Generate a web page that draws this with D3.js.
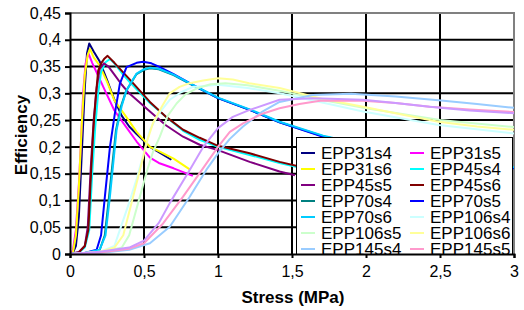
<!DOCTYPE html>
<html>
<head>
<meta charset="utf-8">
<script src="https://cdn.jsdelivr.net/npm/d3@7"></script>
<style>
  body { margin: 0; background: #fff; }
  text { font-family: "Liberation Sans", Arial, sans-serif; }
</style>
</head>
<body>
<script>
// stress (MPa), efficiency pairs
var epp31s4 = [[0,0],[0.02,0.002],[0.04,0.015],[0.06,0.07],[0.08,0.19],[0.1,0.31],[0.115,0.375],[0.13,0.393],[0.16,0.378],[0.2,0.36],[0.25,0.325],[0.3,0.288],[0.35,0.258],[0.4,0.238],[0.45,0.224],[0.54,0.2],[0.6,0.19],[0.685,0.176]]
var epp31s5 = [[0,0],[0.02,0.007],[0.04,0.045],[0.06,0.13],[0.075,0.215],[0.09,0.305],[0.105,0.355],[0.124,0.375],[0.15,0.357],[0.2,0.327],[0.25,0.297],[0.3,0.268],[0.38,0.237],[0.45,0.21],[0.54,0.18],[0.6,0.17],[0.7,0.16],[0.83,0.146]]
var epp31s6 = [[0,0],[0.02,0.003],[0.04,0.035],[0.06,0.125],[0.08,0.245],[0.1,0.335],[0.12,0.372],[0.135,0.383],[0.16,0.367],[0.2,0.352],[0.25,0.322],[0.3,0.287],[0.38,0.256],[0.45,0.228],[0.54,0.2],[0.6,0.192],[0.7,0.178],[0.809,0.158]]
var epp45s4 = [[0,0],[0.06,0.003],[0.1,0.012],[0.13,0.045],[0.15,0.15],[0.17,0.235],[0.19,0.3],[0.21,0.34],[0.24,0.358],[0.27,0.364],[0.3,0.356],[0.35,0.338],[0.4,0.322],[0.54,0.282],[0.65,0.256],[0.764,0.23],[0.876,0.213],[1.0,0.2],[1.214,0.185],[1.416,0.17],[1.6,0.158]]
var epp45s5 = [[0,0],[0.06,0.004],[0.1,0.015],[0.12,0.05],[0.14,0.16],[0.16,0.25],[0.18,0.31],[0.2,0.345],[0.229,0.356],[0.26,0.35],[0.3,0.335],[0.35,0.316],[0.4,0.3],[0.54,0.266],[0.65,0.24],[0.764,0.219],[0.876,0.204],[1.0,0.194],[1.214,0.172],[1.416,0.154],[1.52,0.147]]
var epp45s6 = [[0,0],[0.06,0.003],[0.1,0.015],[0.124,0.045],[0.14,0.14],[0.157,0.23],[0.175,0.296],[0.19,0.342],[0.21,0.356],[0.23,0.364],[0.254,0.37],[0.3,0.357],[0.35,0.342],[0.4,0.327],[0.54,0.284],[0.65,0.256],[0.764,0.232],[0.876,0.217],[1.0,0.202],[1.214,0.188],[1.416,0.172],[1.6,0.16]]
var epp70s4 = [[0,0],[0.1,0.002],[0.2,0.007],[0.235,0.035],[0.265,0.11],[0.31,0.23],[0.345,0.276],[0.38,0.305],[0.45,0.336],[0.5,0.344],[0.54,0.347],[0.6,0.345],[0.7,0.334],[0.83,0.315],[1.0,0.291],[1.214,0.269],[1.416,0.246],[1.71,0.22],[2.0,0.202],[2.5,0.18],[3,0.161]]
var epp70s5 = [[0,0],[0.1,0.002],[0.18,0.008],[0.21,0.035],[0.236,0.108],[0.27,0.2],[0.303,0.262],[0.337,0.318],[0.382,0.349],[0.45,0.357],[0.494,0.359],[0.55,0.356],[0.6,0.35],[0.7,0.336],[0.83,0.316],[1.0,0.291],[1.214,0.269],[1.416,0.246],[1.71,0.219],[2.0,0.2],[2.5,0.178],[3,0.16]]
var epp70s6 = [[0,0],[0.1,0.002],[0.2,0.008],[0.24,0.035],[0.27,0.108],[0.315,0.232],[0.35,0.277],[0.382,0.306],[0.45,0.337],[0.5,0.345],[0.54,0.348],[0.6,0.346],[0.7,0.335],[0.83,0.316],[1.0,0.292],[1.214,0.27],[1.416,0.247],[1.71,0.221],[2.0,0.203],[2.5,0.181],[3,0.162]]
var epp106s4 = [[0,0],[0.2,0.004],[0.3,0.015],[0.337,0.045],[0.4,0.096],[0.45,0.14],[0.5,0.19],[0.54,0.232],[0.6,0.262],[0.674,0.288],[0.75,0.302],[0.83,0.312],[1.0,0.316],[1.2,0.31],[1.416,0.3],[1.75,0.28],[1.98,0.266],[2.49,0.241],[3,0.225]]
var epp106s5 = [[0,0],[0.2,0.003],[0.35,0.012],[0.4,0.035],[0.46,0.095],[0.52,0.155],[0.56,0.19],[0.607,0.219],[0.66,0.258],[0.72,0.281],[0.78,0.298],[0.854,0.309],[0.95,0.317],[1.05,0.319],[1.2,0.315],[1.416,0.305],[1.75,0.285],[2.0,0.272],[2.5,0.25],[3,0.237]]
var epp106s6 = [[0,0],[0.2,0.004],[0.3,0.012],[0.36,0.035],[0.42,0.1],[0.48,0.165],[0.52,0.21],[0.56,0.244],[0.62,0.275],[0.674,0.3],[0.74,0.312],[0.809,0.319],[0.9,0.324],[1.0,0.328],[1.1,0.326],[1.21,0.319],[1.416,0.31],[1.7,0.29],[1.98,0.275],[2.25,0.26],[2.49,0.247],[2.75,0.238],[3,0.232]]
var epp145s4 = [[0,0],[0.2,0.002],[0.4,0.008],[0.54,0.02],[0.674,0.051],[0.809,0.107],[0.921,0.157],[1.0,0.188],[1.08,0.215],[1.169,0.238],[1.3,0.266],[1.416,0.284],[1.64,0.297],[1.9,0.299],[2.2,0.294],[2.49,0.287],[2.75,0.28],[3,0.273]]
var epp145s5 = [[0,0],[0.2,0.003],[0.4,0.01],[0.5,0.02],[0.629,0.057],[0.764,0.107],[0.876,0.151],[1.0,0.2],[1.08,0.228],[1.169,0.244],[1.3,0.262],[1.416,0.272],[1.55,0.28],[1.69,0.286],[1.98,0.286],[2.2,0.282],[2.43,0.275],[2.7,0.27],[3,0.265]]
var epp145s6 = [[0,0],[0.2,0.004],[0.4,0.012],[0.5,0.025],[0.6,0.058],[0.674,0.095],[0.809,0.157],[0.9,0.2],[1.0,0.235],[1.1,0.256],[1.214,0.269],[1.416,0.288],[1.64,0.291],[1.98,0.288],[2.2,0.282],[2.43,0.275],[2.7,0.268],[3,0.263]]

var seriesNames = ["EPP31s4","EPP31s5","EPP31s6","EPP45s4","EPP45s5","EPP45s6","EPP70s4","EPP70s5","EPP70s6","EPP106s4","EPP106s5","EPP106s6","EPP145s4","EPP145s5","EPP145s6"]
var seriesData = [epp31s4,epp31s5,epp31s6,epp45s4,epp45s5,epp45s6,epp70s4,epp70s5,epp70s6,epp106s4,epp106s5,epp106s6,epp145s4,epp145s5,epp145s6]
var seriesColors = ["#000080","#ff00ff","#ffff00","#00ffff","#800080","#800000","#008080","#0000ff","#00ccff","#ccffff","#ccffcc","#ffff99","#99ccff","#ff99cc","#cc99ff"]

var xTicks = [0,0.5,1,1.5,2,2.5,3]
var yTicks = [0,0.05,0.1,0.15,0.2,0.25,0.3,0.35,0.4,0.45]

function comma(v) { return String(v).replace(".", ",") }

function main() {
  width = 524
  height = 310
  left = 70
  right = 514
  top_ = 13
  bottom = 254

  canvas = d3.select("body")
  .append("svg")
  .attr("width", width)
  .attr("height", height)

  x = d3.scaleLinear().domain([0,3]).range([left, right])
  y = d3.scaleLinear().domain([0,0.45]).range([bottom, top_])

  canvas.append("defs").append("clipPath").attr("id", "plot")
  .append("rect")
  .attr("x", left).attr("y", top_)
  .attr("width", right - left).attr("height", bottom - top_)

  // grid
  grid = canvas.append("g").attr("class", "grid")
  grid.selectAll("line.h")
  .data(yTicks.slice(1, -1))
  .enter()
  .append("line")
  .attr("x1", left).attr("x2", right)
  .attr("y1", function(d) {return y(d)})
  .attr("y2", function(d) {return y(d)})
  .attr("stroke", "#000").attr("stroke-width", 2)
  grid.selectAll("line.v")
  .data(xTicks.slice(1, -1))
  .enter()
  .append("line")
  .attr("y1", top_).attr("y2", bottom)
  .attr("x1", function(d) {return x(d)})
  .attr("x2", function(d) {return x(d)})
  .attr("stroke", "#000").attr("stroke-width", 2)

  // plot frame (top and right are grey)
  canvas.append("path")
  .attr("d", "M" + left + "," + y(0.45) + "H" + x(3) + "V" + bottom)
  .attr("fill", "none").attr("stroke", "#808080").attr("stroke-width", 2)

  var line = d3.line()
  .x(function(d) {return x(d[0])})
  .y(function(d) {return y(d[1])})

  lines = canvas.append("g").attr("clip-path", "url(#plot)")
  lines.selectAll("path")
  .data(seriesData)
  .enter()
  .append("path")
  .attr("d", line)
  .attr("fill", "none")
  .attr("stroke", function(d, i) {return seriesColors[i]})
  .attr("stroke-width", 2)
  .attr("stroke-linejoin", "round")

  // legend, cut off by the plot area like the original (last entry falls outside)
  legend = canvas.append("g").attr("clip-path", "url(#plot)")
  legend.append("rect")
  .attr("x", 296.5).attr("y", 137.5)
  .attr("width", 216).attr("height", 140)
  .attr("fill", "#fff").attr("stroke", "#000").attr("stroke-width", 1)

  items = legend.selectAll("g.item")
  .data(seriesNames.slice(0, 14))
  .enter()
  .append("g")
  .attr("transform", function(d, i) {
    return "translate(" + (i % 2 == 0 ? 301 : 410) + "," + (159 + 16 * Math.floor(i / 2)) + ")"
  })
  items.append("line")
  .attr("x1", 0).attr("x2", 14)
  .attr("y1", -6).attr("y2", -6)
  .attr("stroke", function(d, i) {return seriesColors[i]})
  .attr("stroke-width", 2)
  items.append("text")
  .attr("x", 20)
  .attr("font-size", 17)
  .attr("fill", "#000")
  .text(function(d) {return d})

  // axes
  var xAxis = d3.axisBottom(x).tickValues(xTicks).tickSize(4).tickPadding(8).tickFormat(comma)
  var yAxis = d3.axisLeft(y).tickValues(yTicks).tickSize(5).tickPadding(4).tickFormat(comma)

  gx = canvas.append("g").attr("transform", "translate(0," + bottom + ")").call(xAxis)
  gy = canvas.append("g").attr("transform", "translate(" + left + ",0)").call(yAxis)
  ;[gx, gy].forEach(function(g) {
    g.select(".domain").attr("stroke", "#000").attr("stroke-width", 2)
    g.selectAll(".tick line").attr("stroke", "#000").attr("stroke-width", 2)
    g.selectAll("text").attr("font-size", 16).attr("fill", "#000")
      .style("font-family", "'Liberation Sans', Arial, sans-serif")
  })

  canvas.append("text")
  .attr("x", 293).attr("y", 303)
  .attr("text-anchor", "middle")
  .attr("font-size", 17).attr("font-weight", "bold")
  .text("Stress (MPa)")

  canvas.append("text")
  .attr("transform", "translate(27,135) rotate(-90)")
  .attr("text-anchor", "middle")
  .attr("font-size", 17).attr("font-weight", "bold")
  .text("Efficiency")
}

main()
</script>
</body>
</html>
